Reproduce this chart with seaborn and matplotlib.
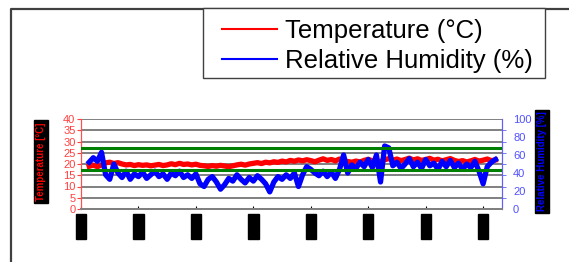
import numpy as np
import pandas as pd
import matplotlib
matplotlib.use("Agg")
import matplotlib.pyplot as plt
from matplotlib.lines import Line2D
from matplotlib.patches import Rectangle
import seaborn as sns

plt.rcParams["font.family"] = ["Liberation Sans", "DejaVu Sans"]

# sample times in days (one reading every half day)
days = np.arange(1.0, 50.6, 0.5)

temperature = [19.0, 19.5, 18.8, 19.6, 20.5, 20.8, 20.2, 20.6, 20.0, 19.6,
               19.8, 19.3, 19.7, 19.4, 19.6, 19.2, 19.5, 19.8, 19.3, 19.6,
               20.1, 19.7, 20.3, 19.8, 20.0, 19.6, 19.9, 19.4, 19.2, 18.9,
               19.3, 19.0, 19.4, 19.1, 18.8, 19.2, 19.6, 19.9, 19.5, 20.0,
               20.3, 20.6, 20.2, 20.8, 20.5, 21.0, 20.7, 21.3, 20.9, 21.6,
               21.2, 21.8, 21.4, 21.9, 21.5, 21.0, 21.7, 22.3, 21.6, 22.0,
               21.4, 22.2, 21.5, 21.1, 20.8, 21.3, 20.9, 21.6, 22.1, 21.4,
               20.7, 21.2, 21.9, 22.4, 21.7, 22.2, 21.5, 22.0, 22.6, 21.8,
               22.3, 21.6, 22.0, 22.5, 21.7, 22.1, 21.4, 21.9, 22.4, 21.6,
               21.1, 21.5, 20.9, 21.4, 22.0, 21.3, 21.7, 22.2, 21.5, 21.8]

humidity = [52, 57, 53, 63, 38, 33, 50, 40, 35, 42,
            33, 39, 36, 41, 34, 38, 42, 36, 39, 33,
            40, 37, 42, 35, 38, 34, 39, 28, 25, 33,
            36, 30, 22, 27, 34, 31, 38, 33, 29, 35,
            31, 37, 33, 28, 19, 30, 36, 33, 38, 34,
            40, 25, 38, 47, 44, 40, 37, 42, 36, 41,
            34, 44, 60, 40, 49, 45, 52, 47, 55, 46,
            60, 30, 70, 68, 48, 52, 45, 50, 56, 47,
            52, 45, 55, 48, 51, 44, 53, 47, 54, 46,
            51, 44, 50, 46, 53, 42, 28, 47, 52, 55]

tick_days = [0, 7, 14, 21, 28, 35, 42, 49]
tick_labels = ["10/01", "17/01", "24/01", "31/01", "07/02", "14/02", "21/02", "28/02"]
temp_limits = [17.2, 27.0]

frame = pd.DataFrame({"Day": days, "Temperature": temperature, "Humidity": humidity})

fig = plt.figure(figsize=(5.69, 2.62), dpi=100)
ax = fig.add_axes([81 / 569, 1 - 209 / 262, 421 / 569, 90 / 262])
ax2 = ax.twinx()

sns.lineplot(frame, x="Day", y="Temperature", ax=ax, color="#ff0000", linewidth=3.8)
sns.lineplot(frame, x="Day", y="Humidity", ax=ax2, color="#0000ff", linewidth=3.8)
for t in temp_limits:
    ax2.axhline(t * 2.5, color="#008000", linewidth=2.2, zorder=5)

ax.set_xlim(0, 51.3)
ax.set_ylim(0, 40)
ax2.set_ylim(0, 100)
ax.set_yticks(range(0, 41, 5))
ax.yaxis.grid(True, color="#808080", linewidth=1.4)
ax.set_axisbelow(True)
ax.set_xlabel("")
ax.set_ylabel("")
ax2.set_ylabel("")

ax.set_xticks(tick_days)
ax.set_xticklabels(tick_labels, rotation=90, fontsize=6, color="black", va="top",
                   bbox=dict(facecolor="black", edgecolor="black", pad=1.2))
ax.tick_params(axis="x", direction="in", length=2, color="black", pad=5)
ax.tick_params(axis="y", direction="out", length=3, colors="#ff4040", labelsize=8, pad=1)

ax2.set_yticks(range(0, 101, 20))
ax2.set_yticks([0, 12.5, 25, 37.5, 50, 62.5, 75, 87.5, 100], minor=True)
ax2.tick_params(axis="y", which="major", length=0, colors="#5050ff", labelsize=8, pad=8)
ax2.tick_params(axis="y", which="minor", length=3, color="#6060ff")

for a in (ax, ax2):
    a.spines["top"].set_visible(False)
    a.spines["bottom"].set_color("#808080")
    a.spines["bottom"].set_linewidth(1.4)
    a.spines["left"].set_color("#ff5050")
    a.spines["right"].set_color("#6060ff")
    a.set_facecolor("none")

fig.text(41 / 569, 1 - 161.5 / 262, "Temperature [°C]", rotation=90, ha="center", va="center",
         color="#ff0000", fontsize=7, fontweight="bold",
         bbox=dict(facecolor="black", edgecolor="black", pad=1.5))
fig.text(542 / 569, 1 - 161.5 / 262, "Relative Humidity [%]", rotation=90, ha="center", va="center",
         color="#0000ff", fontsize=7, fontweight="bold",
         bbox=dict(facecolor="black", edgecolor="black", pad=1.5))

# outer chart frame (only top and left edges fall inside the image)
x0, y0 = 11 / 569, 1 - 8.5 / 262
fig.add_artist(Line2D([x0, x0, 1.05], [-0.05, y0, y0], transform=fig.transFigure,
                      color="#404040", linewidth=1.6))

# legend box drawn separately so its padding matches the original
fig.add_artist(Rectangle((203 / 569, 1 - 78 / 262), 342 / 569, 70 / 262,
                         transform=fig.transFigure, facecolor="white",
                         edgecolor="#404040", linewidth=1.0, zorder=3))
handles = [ax.get_lines()[0], ax2.get_lines()[0]]
leg = fig.legend(handles, ["Temperature (°C)", "Relative Humidity (%)"],
                 loc="upper left", bbox_to_anchor=(222 / 569, 1 - 19 / 262), fontsize=18.5,
                 frameon=False, borderaxespad=0, borderpad=0,
                 handlelength=2.15, handletextpad=0.3, labelspacing=0.24)
leg.set_zorder(4)
for line in leg.get_lines():
    line.set_linewidth(1.5)

fig.savefig("out.png", dpi=100)
